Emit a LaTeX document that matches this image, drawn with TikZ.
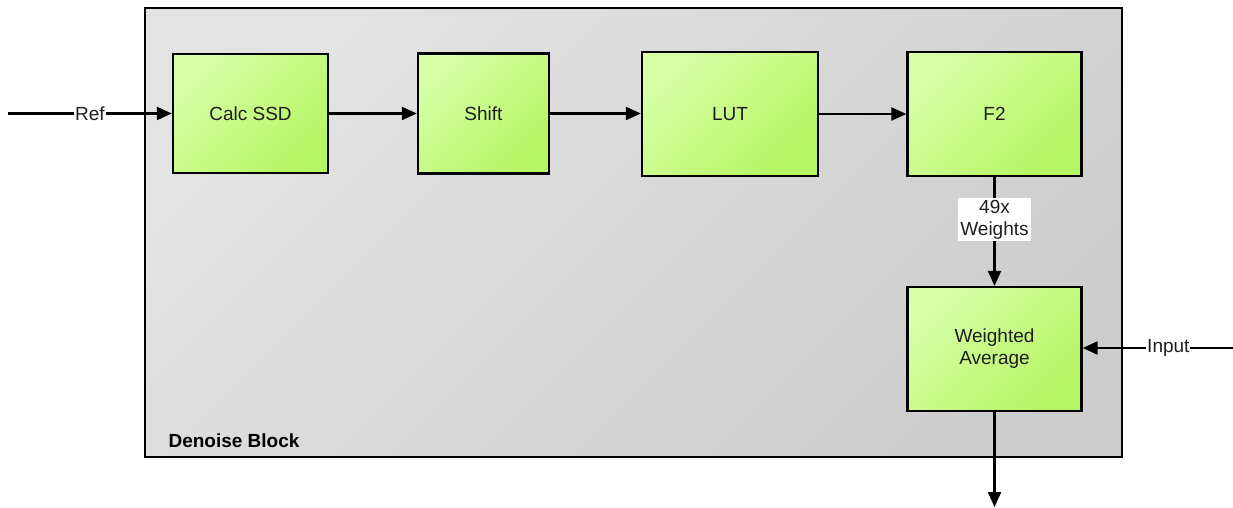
\documentclass[tikz,border=0pt]{standalone}
\usepackage{fontspec}
\setmainfont{Liberation Sans}
\usetikzlibrary{arrows.meta}
\definecolor{txt}{HTML}{1E1E1E}
\definecolor{greenA}{HTML}{D6FFA6}
\definecolor{greenB}{HTML}{B6F563}
\definecolor{grayA}{HTML}{E3E3E3}
\definecolor{grayB}{HTML}{CDCDCD}
\tikzset{
  block/.style={draw=black, line width=2.3pt, shading=axis, top color=greenA, bottom color=greenB, shading angle=45,
    text=txt, font=\fontsize{19}{22}\selectfont, align=center, inner sep=0pt},
  flow/.style={line width=2.2pt, -{Triangle[length=15pt,width=13pt]}},
  tag/.style={fill=white, text=txt, font=\fontsize{19}{22}\selectfont, align=center, inner sep=1pt},
}
\begin{document}
\begin{tikzpicture}[x=1pt,y=-1pt]
\useasboundingbox (0,0) rectangle (1233,508);
% enclosing block
\draw[line width=2.3pt, shading=axis, top color=grayA, bottom color=grayB, shading angle=45] (145,8) rectangle (1122,457);
\node[anchor=west, font=\bfseries\fontsize{19}{22}\selectfont, text=black] (title) at (165,441) {Denoise Block};
% processing stages
\node[block, minimum width=155, minimum height=119] (ssd) at (250.5,113.5) {Calc SSD};
\node[block, minimum width=131, minimum height=120] (shift) at (483.5,113.5) {Shift};
\node[block, minimum width=176, minimum height=124] (lut) at (730,114) {LUT};
\node[block, minimum width=174, minimum height=124] (f2) at (994.5,114) {F2};
\node[block, minimum width=174, minimum height=124] (wavg) at (994.5,349) {Weighted\\Average};
% external ends
\coordinate (refin) at (8,113.5);
\coordinate (inputin) at (1233,348);
\coordinate (out) at (994.5,507);
% connections
\draw[flow] (refin) -- node[tag, pos=0.5] {Ref} (ssd);
\draw[flow] (ssd) -- (shift);
\draw[flow] (shift.east) -- (shift.east -| lut.west);
\draw[flow] (lut) -- (f2);
\draw[flow] (f2) -- node[tag, pos=0.39, inner xsep=2pt, inner ysep=2pt] {49x\\Weights} (wavg);
\draw[flow] (inputin) -- node[tag, pos=0.43] {Input} (wavg.east |- inputin);
\draw[flow] (wavg) -- (out);
\end{tikzpicture}
\end{document}
